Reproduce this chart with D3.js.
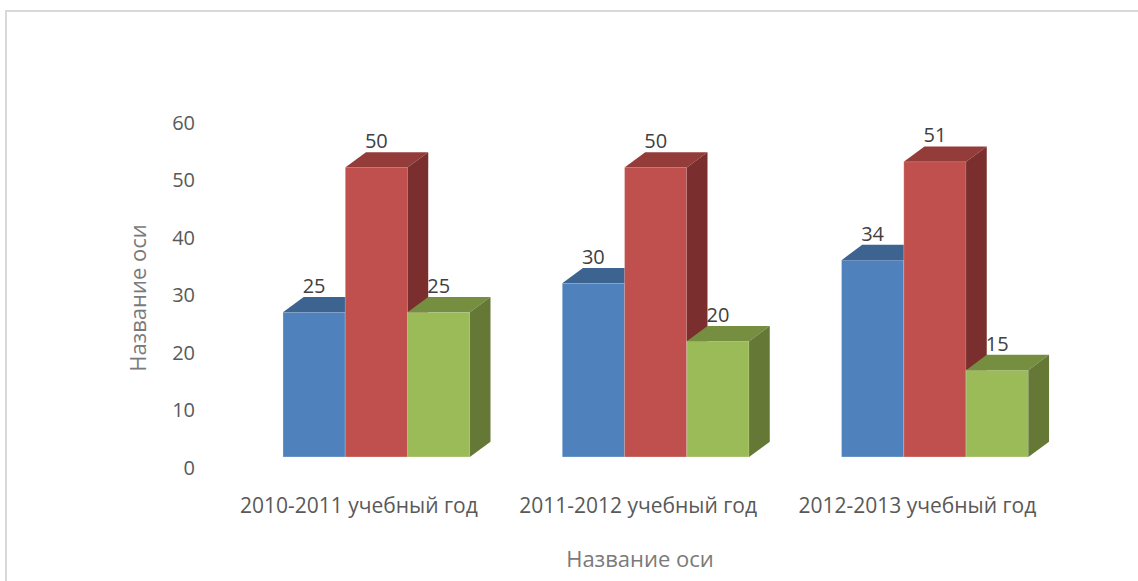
<!DOCTYPE html>
<html lang="ru">

<head>
  <meta charset="UTF-8">
  <title>Chart</title>
  <script src="https://d3js.org/d3.v7.min.js"></script>
  <style>
    body { margin: 0; background: #fff; }
    text { font-family: "Open Sans", "DejaVu Sans", sans-serif; }
  </style>
</head>

<body>
  <svg width="1138" height="581" id="chart"></svg>
  <script>
    // data
    var categories = ["2010-2011 учебный год", "2011-2012 учебный год", "2012-2013 учебный год"]
    var seriesNames = ["Ряд 1", "Ряд 2", "Ряд 3"]
    var series1 = [25, 30, 34]
    var series2 = [50, 50, 51]
    var series3 = [25, 20, 15]
    var yTicks = [0, 10, 20, 30, 40, 50, 60]
    var axisTitle = "Название оси"

    // colours: front, top, side
    var colors = [
      ["#4f81bd", "#3d6491", "#385d89"],
      ["#c0504d", "#943c3a", "#7a2f2e"],
      ["#9bbb59", "#768e3f", "#657835"]
    ]

    var svg = d3.select("#chart")
    var dx = 20.7, dy = 15.3   // depth of the 3d bars

    // frame (only left and top edges are visible in the picture)
    svg.append("rect")
      .attr("x", 6).attr("y", 11)
      .attr("width", 1150).attr("height", 600)
      .style("fill", "none")
      .style("stroke", "#d9d9d9")
      .style("stroke-width", 2)

    var xScale = d3.scaleBand()
      .domain(categories)
      .range([236.75, 1074.55])
      .paddingInner(0.331)
      .paddingOuter(0.1655)

    var xInner = d3.scaleBand()
      .domain(seriesNames)
      .range([0, xScale.bandwidth()])

    var yScale = d3.scaleLinear().domain([0, 60]).range([457, 109.6])
    // tick labels sit a little lower than the bar front plane
    var yAxisScale = d3.scaleLinear().domain([0, 60]).range([468, 123])

    // y axis labels
    var yAxis = svg.append("g")
      .attr("transform", "translate(198,0)")
      .call(d3.axisLeft(yAxisScale).tickValues(yTicks).tickSize(0).tickPadding(3))
    yAxis.select(".domain").remove()
    yAxis.selectAll("text")
      .style("font-family", "'Open Sans', sans-serif")
      .style("font-size", "20px")
      .style("fill", "#595959")

    var allSeries = [series1, series2, series3]
    var rows = []
    categories.forEach(function (c, ci) {
      allSeries.forEach(function (s, si) {
        rows.push({ cat: c, name: seriesNames[si], si: si, value: s[ci] })
      })
    })

    var bars = svg.append("g").selectAll("g.bar")
      .data(rows)
      .enter()
      .append("g")
      .attr("class", "bar")

    function x0(d) { return xScale(d.cat) + xInner(d.name) }
    function x1(d) { return x0(d) + xInner.bandwidth() }

    // front face
    bars.append("rect")
      .attr("x", x0)
      .attr("y", function (d) { return yScale(d.value) })
      .attr("width", xInner.bandwidth())
      .attr("height", function (d) { return yScale(0) - yScale(d.value) })
      .style("fill", function (d) { return colors[d.si][0] })
      .style("stroke", "rgba(255,255,255,0.35)")
      .style("stroke-width", 0.8)

    // top face
    bars.append("path")
      .attr("d", function (d) {
        var y = yScale(d.value)
        return "M" + x0(d) + "," + y + "L" + (x0(d) + dx) + "," + (y - dy) +
          "L" + (x1(d) + dx) + "," + (y - dy) + "L" + x1(d) + "," + y + "Z"
      })
      .style("fill", function (d) { return colors[d.si][1] })

    // side face
    bars.append("path")
      .attr("d", function (d) {
        var y = yScale(d.value), b = yScale(0)
        return "M" + x1(d) + "," + y + "L" + (x1(d) + dx) + "," + (y - dy) +
          "L" + (x1(d) + dx) + "," + (b - dy) + "L" + x1(d) + "," + b + "Z"
      })
      .style("fill", function (d) { return colors[d.si][2] })

    // value labels
    svg.append("g").selectAll("text")
      .data(rows)
      .enter()
      .append("text")
      .attr("x", function (d) { return x0(d) + xInner.bandwidth() / 2 })
      .attr("y", function (d) { return yScale(d.value) - dy - 4 })
      .attr("text-anchor", "middle")
      .style("font-size", "20px")
      .style("fill", "#404040")
      .text(function (d) { return d.value })

    // category labels
    svg.append("g").selectAll("text")
      .data(categories)
      .enter()
      .append("text")
      .attr("x", function (d) { return xScale(d) + xScale.bandwidth() / 2 - 17.5 })
      .attr("y", 513)
      .attr("text-anchor", "middle")
      .style("font-size", "21px")
      .style("fill", "#595959")
      .text(function (d) { return d })

    // X title
    svg.append("text")
      .attr("x", 640)
      .attr("y", 567)
      .attr("text-anchor", "middle")
      .style("font-size", "22px")
      .style("fill", "#7a7a7a")
      .text(axisTitle)

    // Y title
    svg.append("text")
      .attr("text-anchor", "middle")
      .attr("transform", "translate(146,298)rotate(-90)")
      .style("font-size", "22px")
      .style("fill", "#7a7a7a")
      .text(axisTitle)
  </script>
</body>

</html>
